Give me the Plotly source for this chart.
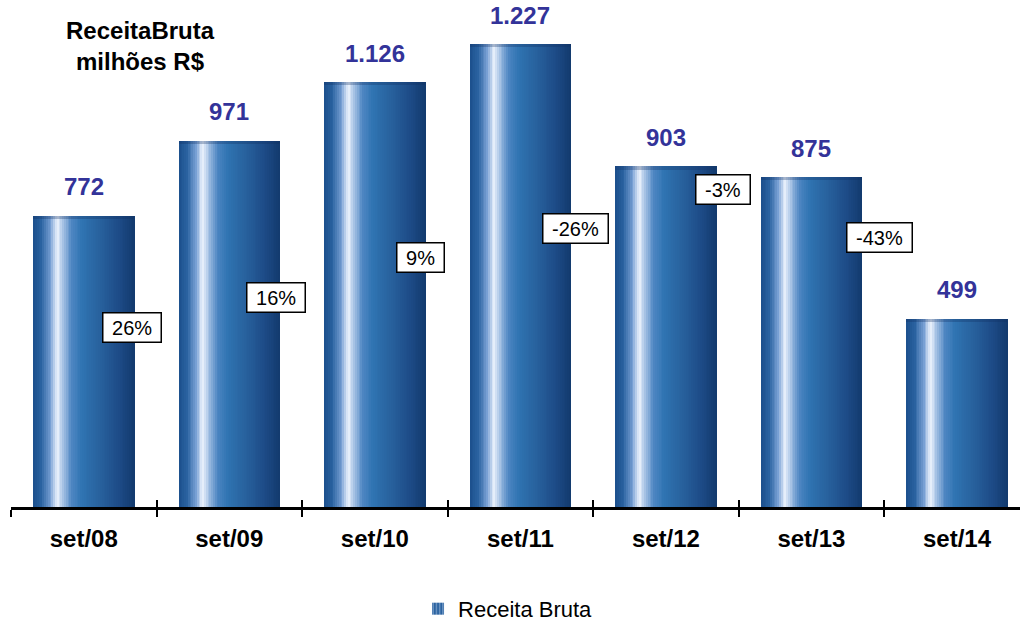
import plotly.graph_objects as go

# ---- data ----
categories = ["set/08", "set/09", "set/10", "set/11", "set/12", "set/13", "set/14"]
receita = [772, 971, 1126, 1227, 903, 875, 499]
value_labels = ["772", "971", "1.126", "1.227", "903", "875", "499"]
growth_labels = ["26%", "16%", "9%", "-26%", "-3%", "-43%"]

# ---- label placement (styling) ----
growth_x_offset = [0.333, 0.323, 0.313, 0.378, 0.39, 0.47]
growth_y = [476, 556, 661, 738, 841, 714]

FONT = "Liberation Sans, Arial, sans-serif"
BAR_W = 0.694
N_SLICES = 56

stops = [
    (0.00, (27, 79, 140)),
    (0.08, (42, 98, 160)),
    (0.17, (120, 160, 212)),
    (0.235, (236, 243, 253)),
    (0.30, (160, 190, 226)),
    (0.38, (78, 134, 194)),
    (0.48, (47, 116, 178)),
    (0.65, (40, 98, 158)),
    (0.85, (29, 75, 135)),
    (1.00, (18, 58, 110)),
]


def interp(t):
    for (t0, c0), (t1, c1) in zip(stops[:-1], stops[1:]):
        if t0 <= t <= t1:
            f = (t - t0) / (t1 - t0) if t1 > t0 else 0
            return "rgb(%d,%d,%d)" % tuple(round(a + (b - a) * f) for a, b in zip(c0, c1))
    return "rgb(%d,%d,%d)" % stops[-1][1]


fig = go.Figure()
sw = BAR_W / N_SLICES
for k in range(N_SLICES):
    t = (k + 0.5) / N_SLICES
    fig.add_trace(go.Bar(
        x=categories, y=receita,
        width=sw * 1.15, offset=-BAR_W / 2 + k * sw,
        marker=dict(color=interp(t), line=dict(width=0)),
        showlegend=False, hoverinfo="skip",
    ))

# darker top rim
fig.add_trace(go.Bar(
    x=categories, y=[8] * len(receita), base=[v - 8 for v in receita],
    width=BAR_W, offset=-BAR_W / 2,
    marker=dict(color="rgba(15,45,95,0.30)", line=dict(width=0)),
    showlegend=False, hoverinfo="skip",
))

# legend entry
fig.add_trace(go.Bar(
    x=[categories[0]], y=[0], name="Receita Bruta",
    marker=dict(color="#2f6aa8", line=dict(width=0),
                pattern=dict(shape="|", fgcolor="#d8e6f7", bgcolor="#2a62a0", size=4, solidity=0.35)),
    showlegend=True, hoverinfo="skip",
))

# invisible trace for the upper tick half
fig.add_trace(go.Scatter(x=[0], y=[0], xaxis="x2", mode="markers",
                         marker=dict(opacity=0), showlegend=False, hoverinfo="skip"))

annotations = []
for i, (v, lab) in enumerate(zip(receita, value_labels)):
    annotations.append(dict(
        x=i, y=v, xref="x", yref="y", text=lab, showarrow=False,
        yanchor="middle", yshift=29,
        font=dict(family=FONT, size=24, color="#333399", weight="bold"),
    ))
for i, lab in enumerate(growth_labels):
    annotations.append(dict(
        x=i + growth_x_offset[i], y=growth_y[i], xref="x", yref="y",
        text=" " + lab + " ", showarrow=False, xanchor="center", yanchor="middle",
        bgcolor="white", bordercolor="black", borderwidth=1.5, borderpad=3,
        font=dict(family=FONT, size=20, color="black"),
    ))
annotations.append(dict(
    x=(140 - 11) / 1009, y=(507 - 46) / 497, xref="paper", yref="paper",
    text="ReceitaBruta<br>milhões R$",
    showarrow=False, xanchor="center", yanchor="middle",
    font=dict(family=FONT, size=24, color="black", weight="bold"),
))

xr = [-0.5, 6.433]
fig.update_layout(
    width=1020, height=623,
    margin=dict(l=11, r=0, t=10, b=116, autoexpand=False),
    paper_bgcolor="white", plot_bgcolor="white",
    barmode="overlay", bargap=0,
    font=dict(family=FONT),
    xaxis=dict(
        type="category", categoryorder="array", categoryarray=categories,
        range=xr, showline=True, linecolor="black", linewidth=3,
        ticks="outside", ticklen=7, tickwidth=2, tickcolor="black", tickson="boundaries",
        tickfont=dict(family=FONT, size=24, color="black", weight="bold"),
        showgrid=False, zeroline=False, ticklabelstandoff=8, automargin=False,
    ),
    xaxis2=dict(
        overlaying="x", anchor="y", side="bottom", type="linear", range=xr,
        tickvals=[i - 0.5 for i in range(len(categories) + 1)],
        ticks="inside", ticklen=7, tickwidth=2, tickcolor="black",
        showticklabels=False, showline=False, showgrid=False, zeroline=False,
        automargin=False,
    ),
    yaxis=dict(range=[0, 1318], visible=False, showgrid=False, zeroline=False, automargin=False),
    legend=dict(orientation="h", x=0.4926, xanchor="center", y=-0.205, yanchor="middle",
                font=dict(family=FONT, size=22, color="black")),
    annotations=annotations,
)

fig.write_html("out.html", config={"displayModeBar": False},
               post_script="document.body.style.margin='0px';")
